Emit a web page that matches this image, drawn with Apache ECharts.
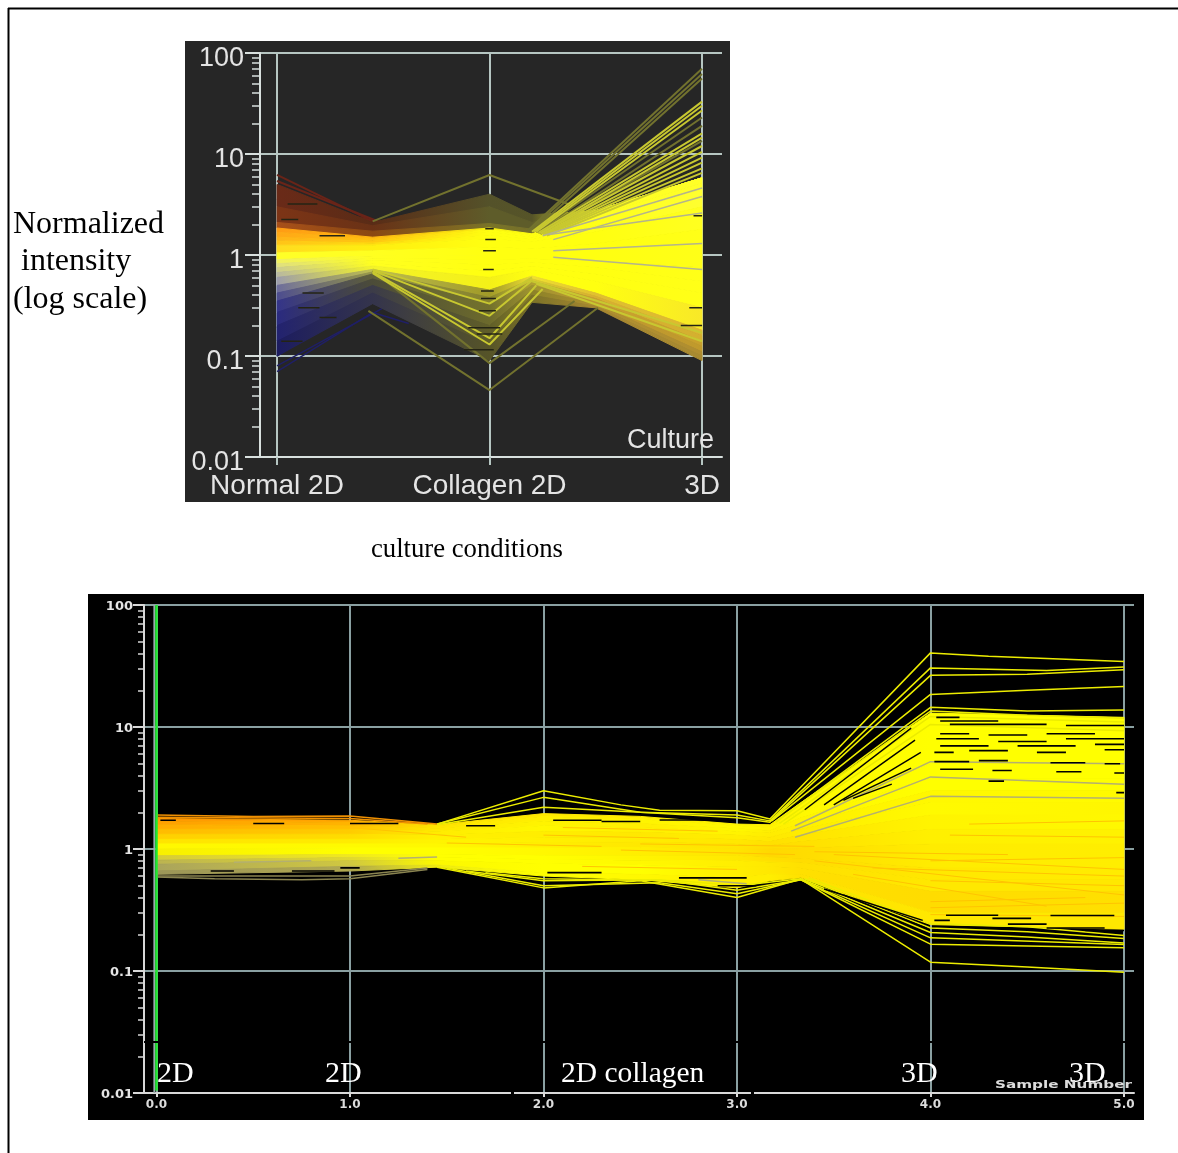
<!DOCTYPE html>
<html><head><meta charset="utf-8">
<style>html,body{margin:0;padding:0;background:#fff}#c{width:1178px;height:1153px}</style>
<script src="https://cdn.jsdelivr.net/npm/echarts@6/dist/echarts.min.js"></script>
</head><body><div id="c"></div>
<script>
// ---------- tick labels ----------
const topCategoryValues = [0, 1, 2];
const topCategories = ['Normal 2D', 'Collagen 2D', '3D'];
const bottomSampleValues = [0, 1, 2, 3, 4, 5];
const bottomSampleLabels = ['0.0', '1.0', '2.0', '3.0', '4.0', '5.0'];
const minorLogTicks = [0.02,0.03,0.04,0.05,0.06,0.07,0.08,0.09,0.2,0.3,0.4,0.5,0.6,0.7,0.8,0.9,2,3,4,5,6,7,8,9,20,30,40,50,60,70,80,90];

// ---------- upper panel: envelope layers (value at each culture stop) ----------
const topStops = [0, 0.45, 1, 1.2, 1.5, 2];
const topLayers = [
  [5.0, 2.1, 4.0, 2.5, 2.75, 5.8],
  [3.0, 1.95, 3.0, 2.1, 2.75, 5.8],
  [2.1, 1.72, 2.05, 1.8, 2.75, 5.8],
  [1.85, 1.5, 1.85, 1.62, 2.7, 5.8],
  [1.68, 1.44, 1.78, 1.56, 2.45, 5.2],
  [1.5, 1.38, 1.7, 1.5, 2.2, 4.5],
  [1.38, 1.31, 1.58, 1.42, 1.95, 3.7],
  [1.25, 1.25, 1.45, 1.35, 1.7, 3.0],
  [1.05, 1.1, 1.2, 1.15, 1.3, 1.8],
  [0.9, 0.98, 1.0, 1.0, 1.0, 1.0],
  [0.82, 0.93, 0.9, 0.92, 0.87, 0.75],
  [0.75, 0.88, 0.8, 0.85, 0.75, 0.55],
  [0.67, 0.83, 0.7, 0.78, 0.65, 0.42],
  [0.6, 0.78, 0.6, 0.72, 0.55, 0.3],
  [0.5, 0.72, 0.45, 0.62, 0.42, 0.18],
  [0.42, 0.68, 0.38, 0.58, 0.39, 0.16],
  [0.35, 0.65, 0.33, 0.55, 0.37, 0.14],
  [0.27, 0.58, 0.26, 0.5, 0.35, 0.125],
  [0.2, 0.5, 0.2, 0.45, 0.33, 0.11],
  [0.14, 0.42, 0.13, 0.4, 0.31, 0.1],
  [0.1, 0.33, 0.09, 0.34, 0.3, 0.09]
];
const topStripColors = [
  ['#6a2a18','#5a2c16','#54522a','#565428','#ffff20','#ffff20'],
  ['#7c3416','#6a3216','#5e5c2a','#5e5c2a','#ffff20','#ffff20'],
  ['#a8501a','#8a4812','#7a7428','#76702a','#ffff20','#ffff20'],
  ['#ff9c14','#ffb810','#f8f010','#ffff10','#ffff20','#ffff28'],
  ['#ffa816','#ffc010','#ffff10','#ffff10','#ffff20','#ffff28'],
  ['#ffb418','#ffc810','#ffff10','#ffff10','#ffff18','#ffff30'],
  ['#ffc418','#ffdc10','#ffff10','#ffff10','#ffff18','#ffff30'],
  ['#ffdc20','#ffee10','#ffff10','#ffff10','#ffff10','#ffff20'],
  ['#ffff28','#ffff20','#ffff10','#ffff10','#ffff10','#ffff18'],
  ['#f0f060','#ffff20','#ffff10','#ffff10','#ffff10','#ffff18'],
  ['#e0e080','#ffff20','#ffff10','#ffff10','#ffff10','#ffff18'],
  ['#cccc90','#ffff20','#ffff10','#ffff10','#ffff10','#ffff18'],
  ['#b8b8a0','#ffff20','#ffff10','#ffff10','#ffff10','#ffff18'],
  ['#9c9cac','#f4f428','#f4f018','#ffff10','#ffff10','#f8e828'],
  ['#6c6c9c','#c0c050','#a09a28','#f0e030','#e0c030','#dcb830'],
  ['#4c4c90','#9a9a48','#86822c','#d8cc30','#d8b030','#d4b030'],
  ['#34348a','#60603a','#72702c','#b0a030','#c8a030','#c8a02c'],
  ['#2a2a80','#4c4c38','#6c6a2c','#a09430','#c09830','#c09a2c'],
  ['#222270','#3c3c48','#605e28','#8c8228','#b09030','#b08e30'],
  ['#1c1c60','#34344c','#565428','#7c7228','#a88830','#a88a30']
];

// ---------- upper panel: individual profiles as [culture, intensity] ----------
const topLinesRed = [
  [[0,6.2],[0.45,2.15]], [[0,5.4],[0.5,2.05]], [[0,3.6],[0.55,1.95]]
];
const topLinesBlue = [
  [[0,0.07],[0.45,0.27],[0.62,0.21]], [[0,0.08],[0.5,0.3],[0.7,0.2]],
  [[0,0.1],[0.42,0.36],[0.62,0.28]], [[0,0.14],[0.42,0.42],[0.6,0.26]],
  [[0,0.19],[0.42,0.5],[0.6,0.33]]
];
const topLinesOlive = [
  [[0.45,2.15],[1,6.2],[1.37,3.2]],
  [[0.43,0.28],[1,0.046],[1.51,0.3]],
  [[0.45,0.7],[1,0.085],[1.4,0.35]],
  [[1.18,1.75],[2,70]], [[1.19,1.75],[2,62]], [[1.2,1.7],[2,56]],
  [[1.22,1.68],[2,23]], [[1.23,1.65],[2,19]], [[1.24,1.62],[2,13.5]]
];
const topLinesBright = [
  [[1.2,1.7],[2,33]], [[1.21,1.7],[2,30]], [[1.22,1.7],[2,27]],
  [[1.23,1.66],[2,16]], [[1.24,1.64],[2,14.5]], [[1.24,1.64],[2,12]],
  [[1.25,1.62],[2,10.5]], [[1.25,1.6],[2,9.2]], [[1.26,1.6],[2,8.2]],
  [[1.26,1.58],[2,7.2]], [[1.27,1.56],[2,6.5]],
  [[0.45,0.72],[1,0.33],[1.2,0.6]], [[0.45,0.7],[1,0.25],[1.2,0.56]],
  [[0.45,0.68],[1,0.15],[1.22,0.5]], [[0.45,0.66],[1,0.13],[1.25,0.46]],
  [[1.2,0.55],[2,0.17]], [[1.22,0.52],[2,0.14]]
];
const topLinesGrey = [
  [[1.28,1.6],[2,2.6]], [[1.3,1.1],[2,1.3]], [[1.3,1.42],[2,3.8]],
  [[1.3,0.95],[2,0.72]], [[1.25,1.55],[2,4.6]]
];
const topGaps = [
  [0.05,0.19,3.2],[0.02,0.1,2.25],[0.2,0.32,1.55],[0.02,0.12,0.14],[0.1,0.2,0.3],
  [0.2,0.28,0.24],[0.12,0.22,0.42],[0.98,1.02,1.82],[0.98,1.03,1.42],
  [0.97,1.03,1.1],[0.97,1.02,0.72],[0.96,1.02,0.44],[0.96,1.03,0.37],[0.95,1.03,0.28],
  [0.9,1.05,0.19],[0.94,1.06,0.165],[0.88,1.02,0.115],[1.96,2,2.45],[1.9,2,0.2],[1.94,2,0.3]
];

// ---------- lower panel: envelope layers (value at each sample stop) ----------
const bottomStops = [0, 1, 1.45, 2, 2.5, 3, 3.17, 3.33, 4, 5];
const bottomLayers = [
  [1.78, 1.72, 1.58, 1.95, 1.85, 1.6, 1.58, 2.4, 13, 12],
  [1.7, 1.65, 1.55, 1.85, 1.75, 1.55, 1.5, 2.0, 5, 5],
  [1.58, 1.55, 1.48, 1.7, 1.62, 1.47, 1.42, 1.8, 3.8, 3.8],
  [1.45, 1.45, 1.4, 1.55, 1.5, 1.4, 1.35, 1.6, 3, 3],
  [1.32, 1.32, 1.3, 1.4, 1.37, 1.3, 1.25, 1.45, 2.4, 2.4],
  [1.2, 1.2, 1.2, 1.25, 1.25, 1.2, 1.15, 1.3, 1.9, 1.9],
  [1.1, 1.1, 1.1, 1.13, 1.14, 1.1, 1.07, 1.15, 1.45, 1.45],
  [1.0, 1.02, 1.02, 1.02, 1.03, 1.0, 1.0, 1.02, 1.1, 1.1],
  [0.88, 0.9, 0.9, 0.88, 0.88, 0.88, 0.85, 0.84, 0.7, 0.7],
  [0.81, 0.85, 0.85, 0.82, 0.81, 0.8, 0.78, 0.77, 0.56, 0.56],
  [0.75, 0.8, 0.8, 0.76, 0.74, 0.72, 0.72, 0.7, 0.45, 0.45],
  [0.66, 0.72, 0.74, 0.64, 0.62, 0.58, 0.62, 0.62, 0.3, 0.3],
  [0.62, 0.66, 0.71, 0.6, 0.56, 0.48, 0.55, 0.58, 0.24, 0.22]
];
const bottomStripColors = [
  ['#ff9600','#ffa800','#ffe000','#ffe800','#ffee00','#fff400','#fff000','#fff800','#ffff00','#ffff00'],
  ['#ffa000','#ffb400','#ffe400','#fff000','#fff400','#fff800','#fff400','#fff800','#ffff00','#ffff00'],
  ['#ffac00','#ffc000','#ffe800','#fff400','#ffee00','#fff800','#ffee00','#fff400','#ffff00','#ffff00'],
  ['#ffbc00','#ffcc00','#ffec00','#fff800','#fff000','#fff400','#ffec00','#fff000','#fff800','#fffa00'],
  ['#ffd000','#ffdc00','#fff000','#ffee00','#ffe800','#ffee00','#ffe800','#ffec00','#fffa00','#fff600'],
  ['#ffe400','#ffec00','#fff400','#fff000','#ffec00','#ffe800','#ffe000','#ffe400','#fff400','#fff800'],
  ['#fff800','#fffa00','#fff800','#ffee00','#ffe800','#ffe400','#ffdc00','#ffe000','#fff000','#fff200'],
  ['#f8f000','#ffff00','#ffff00','#fff800','#ffee00','#ffe400','#ffd800','#ffdc00','#ffec00','#ffee00'],
  ['#d6cc38','#f0e820','#ffff00','#ffff00','#fff400','#ffe800','#ffe000','#ffdc00','#ffe800','#ffec00'],
  ['#bcb450','#e0d830','#ffff00','#ffff00','#fff800','#ffee00','#ffe800','#ffe000','#ffe800','#ffe800'],
  ['#aaa45c','#d0c840','#fcf800','#ffff00','#ffff00','#ffee00','#ffe800','#ffe000','#ffdc00','#ffe000'],
  ['#9c9658','#b0a850','#f0ec10','#ffff00','#fff800','#ffee00','#ffee00','#ffe000','#ffe800','#ffe800']
];

// ---------- lower panel: individual profiles as [sample, intensity] ----------
const bottomLinesOrange = [
  [[0,1.9],[0.5,1.85],[1,1.86],[1.45,1.6]], [[0,1.82],[0.4,1.8],[1,1.78],[1.4,1.6]]
];
const bottomLinesDrab = [
  [[0,0.59],[0.3,0.57],[0.75,0.56],[1,0.57],[1.4,0.68]], [[0,0.6],[0.5,0.6],[1,0.6],[1.4,0.7]]
];
const bottomLinesYellow = [
  [[1.45,1.6],[2,3.0],[2.4,2.3],[2.6,2.08],[3,2.06],[3.17,1.76],[4,40.5],[4.3,38],[5,34.5]],
  [[1.45,1.6],[2,2.65],[2.5,2.0],[3,1.9],[3.17,1.7],[4,30.5],[4.6,29],[5,31]],
  [[1.45,1.58],[2,2.2],[2.5,2.0],[3,1.8],[3.17,1.66],[4,26.5],[4.5,27],[5,29.5]],
  [[3.18,1.7],[4,18.5],[4.5,20],[5,21.5]],
  [[3.2,1.66],[4,14.5],[4.5,13.5],[5,13.8]],
  [[3.2,1.66],[4,13.5],[4.5,12.5],[5,11.8]],
  [[3.22,1.62],[4,12.2],[5,11]],
  [[3.24,1.6],[4,10.5],[5,9.3]],
  [[1.45,0.71],[2,0.48],[2.5,0.55],[3,0.4],[3.33,0.567],[4,0.118],[4.5,0.108],[5,0.0975]],
  [[1.5,0.7],[2,0.5],[2.6,0.53],[3,0.43],[3.33,0.56],[4,0.166],[5,0.155]],
  [[1.6,0.66],[2,0.55],[2.6,0.56],[3,0.46],[3.33,0.56],[4,0.187],[5,0.165]],
  [[1.7,0.64],[2,0.57],[2.7,0.55],[3,0.5],[3.33,0.57],[4,0.207],[4.5,0.19],[5,0.17]],
  [[3.35,0.57],[4,0.225],[4.5,0.21],[5,0.185]],
  [[3.37,0.58],[4,0.245],[4.5,0.23],[5,0.195]]
];
const bottomLinesGrey = [
  [[3.3,1.25],[4,2.7],[5,2.6]], [[3.28,1.4],[4,3.9],[5,3.4]], [[3.3,1.55],[4,5.2],[5,5.0]],
  [[0.4,0.78],[0.8,0.8]], [[1.25,0.84],[1.45,0.86]], [[2.8,0.56],[3.05,0.52]]
];
const bottomStreaks = [
  [[2,1.3],[2.7,1.22]], [[2.4,0.98],[3.3,0.9]], [[3.4,0.8],[5,0.42]],
  [[4,0.55],[5,0.5]], [[4,0.8],[5,0.85]], [[3.5,0.9],[5,0.68]], [[4,0.33],[5,0.36]],
  [[4.1,1.3],[5,1.25]], [[1,1.5],[1.6,1.25]], [[1.5,1.12],[2.3,1.05]], [[4,0.29],[5,0.28]],
  [[3.6,0.62],[4.6,0.34]], [[3.7,0.7],[5,0.6]], [[3.4,0.95],[4.4,0.9]], [[4.2,1.6],[5,1.7]],
  [[2.1,1.5],[2.9,1.4]], [[2.2,0.72],[3,0.68]], [[2.5,1.1],[3.4,1.05]], [[4,0.37],[4.8,0.4]]
];
const bottomGaps = [
  [0.02,0.1,1.72],[0.5,0.66,1.62],[1,1.25,1.62],[0.28,0.4,0.66],[0.7,0.92,0.66],[0.95,1.05,0.7],
  [1.6,1.75,1.55],[2.05,2.3,1.72],[2.3,2.5,1.68],[2.6,2.95,1.73],[2.02,2.3,0.64],[2.7,3.05,0.58],[2.9,3.1,0.5],
  [4.03,4.15,12],[4.05,4.35,11.2],[4.1,4.6,10.5],[4.7,5,10.3],[4.05,4.2,8.8],[4.3,4.5,8.6],[4.6,4.85,8.8],
  [4.03,4.25,8.0],[4.35,4.6,7.6],[4.7,5,8.0],[4.05,4.3,7.0],[4.45,4.75,7.0],[4.85,5,7.2],[4.02,4.12,6.2],
  [4.2,4.4,6.4],[4.55,4.7,6.2],[4.9,5,6.5],[4.02,4.2,5.2],[4.25,4.4,5.3],[4.62,4.8,5.1],[4.9,4.98,5.0],
  [4.05,4.22,4.5],[4.32,4.42,4.4],[4.65,4.78,4.3],[4.95,5,4.2],[4.3,4.38,3.6],[4.96,5,2.9],
  [4.08,4.35,0.286],[4.32,4.52,0.27],[4.62,4.95,0.285],[4.02,4.1,0.26],[4.4,4.6,0.242],[4.8,5,0.215],[4.6,4.9,0.225]
];
const bottomDiagonalGaps = [
  [[3.35,2.1],[3.9,9.8]], [[3.45,2.3],[3.92,7.8]], [[3.5,2.3],[3.95,6.2]], [[3.55,2.5],[3.9,4.6]],
  [[3.6,2.6],[3.8,3.4]], [[3.45,0.47],[3.96,0.26]], [[3.55,0.42],[3.98,0.225]]
];
const bottomMarkerLine = [[0, 0.0105], [0, 100]];
const bottomAxisEdge = [[-0.011, 0.01], [-0.011, 100]];

const chart = echarts.init(document.getElementById('c'));
const series = [];
const TOPG = {xAxisIndex: 0, yAxisIndex: 0};
const BOTG = {xAxisIndex: 1, yAxisIndex: 2};

function addStrips(layers, stops, colors, axes) {
  const span = stops[stops.length - 1] - stops[0];
  for (let i = 0; i < layers.length - 1; i++) {
    const up = layers[i], lo = layers[i + 1], col = colors[i];
    series.push(Object.assign({
      type: 'custom', silent: true, clip: true, z: 2,
      data: [[stops[0], up[0]]],
      renderItem: (p, api) => {
        const pts = [];
        stops.forEach((x, k) => pts.push(api.coord([x, up[k]])));
        for (let k = stops.length - 1; k >= 0; k--) pts.push(api.coord([stops[k], lo[k]]));
        const grad = new echarts.graphic.LinearGradient(0, 0, 1, 0,
          stops.map((x, k) => ({offset: (x - stops[0]) / span, color: col[k]})));
        return {type: 'polygon', shape: {points: pts}, style: {fill: grad, stroke: grad, lineWidth: 1}};
      }
    }, axes));
  }
}
function addLines(rows, color, width, axes, z) {
  rows.forEach(r => series.push(Object.assign({
    type: 'line', silent: true, symbol: 'none', animation: false, z: z || 3,
    data: r, lineStyle: {color: color, width: width}
  }, axes)));
}
function addGaps(rows, color, width, axes) {
  rows.forEach(g => series.push(Object.assign({
    type: 'line', silent: true, symbol: 'none', animation: false, z: 4,
    data: [[g[0], g[2]], [g[1], g[2]]], lineStyle: {color: color, width: width, cap: 'butt'}
  }, axes)));
}

// upper panel marks
addLines(topLinesBlue, '#1f1f66', 1.5, TOPG, 1);
addLines(topLinesRed, '#6a2418', 2, TOPG, 1);
addStrips(topLayers, topStops, topStripColors, TOPG);
addLines(topLinesOlive, '#72722e', 2, TOPG);
addLines(topLinesBright, '#c8c830', 2, TOPG);
addLines(topLinesGrey, '#b4b48c', 1.5, TOPG);
addGaps(topGaps, '#242414', 1.5, TOPG);

// lower panel marks
addStrips(bottomLayers, bottomStops, bottomStripColors, BOTG);
addLines(bottomLinesOrange, '#f09000', 1.5, BOTG);
addLines(bottomLinesDrab, '#8a8450', 1.5, BOTG);
addLines(bottomLinesYellow, '#ecec00', 1.5, BOTG);
addLines(bottomLinesGrey, '#b4b070', 1.5, BOTG);
addLines(bottomStreaks, '#ffc400', 1, BOTG);
addGaps(bottomGaps, '#000', 1.6, BOTG);
addLines(bottomDiagonalGaps, '#000', 1.4, BOTG, 4);
addLines([bottomAxisEdge], '#9aacac', 2, BOTG, 5);
addLines([bottomMarkerLine], '#20e830', 2.5, BOTG, 6);

const sans = 'Liberation Sans', pix = 'DejaVu Sans';
const topGrid = '#b6c6c2', botGrid = '#8aa0a2';

function logAxis(grid, color, lineColor, lineW, font, size, weight, maj, min, margin, lineH) {
  return [{
    type: 'log', logBase: 10, gridIndex: grid, min: 0.01, max: 100, position: 'left',
    axisLine: {show: true, onZero: false, lineStyle: {color: lineColor, width: lineW}},
    axisTick: {show: true, length: maj, lineStyle: {color: lineColor, width: lineW}},
    minorTick: {show: false},
    splitLine: {show: true, lineStyle: {color: color, width: 2}},
    axisLabel: {show: true, color: '#e4e4e4', fontFamily: font, fontSize: size, fontWeight: weight, margin: margin,
      verticalAlign: 'top', lineHeight: lineH,
      showMinLabel: true, showMaxLabel: true, formatter: v => String(v)}
  }, {
    type: 'log', logBase: 10, gridIndex: grid, min: 0.01, max: 100, position: 'left',
    axisLine: {show: false, onZero: false},
    axisTick: {show: true, length: min, customValues: minorLogTicks, lineStyle: {color: lineColor, width: 1.5}},
    axisLabel: {show: false, customValues: []}, splitLine: {show: false}
  }];
}

const option = {
  animation: false, backgroundColor: '#ffffff',
  grid: [
    {left: 260, top: 53, width: 462, height: 404, containLabel: false},
    {left: 144, top: 605, width: 990, height: 488, containLabel: false}
  ],
  xAxis: [{
    type: 'value', gridIndex: 0, min: -0.08, max: 2.094,
    axisLine: {show: true, onZero: false, lineStyle: {color: '#d8e0de', width: 2}},
    axisTick: {show: true, length: 8, customValues: topCategoryValues, lineStyle: {color: topGrid, width: 2}},
    splitLine: {show: true, lineStyle: {color: topGrid, width: 2}},
    axisLabel: {show: true, customValues: topCategoryValues, color: '#e4e4e4', fontFamily: sans, fontSize: 28, margin: 15,
      formatter: v => topCategories[topCategoryValues.indexOf(v)]}
  }, {
    type: 'value', gridIndex: 1, min: -0.0646, max: 5.0517,
    axisLine: {show: true, onZero: false, lineStyle: {color: '#d8d8d8', width: 2}},
    axisTick: {show: true, length: 4, customValues: bottomSampleValues, lineStyle: {color: '#d8d8d8', width: 2}},
    splitLine: {show: true, lineStyle: {color: botGrid, width: 2}},
    axisLabel: {show: true, customValues: bottomSampleValues, color: '#dcdcdc', fontFamily: pix, fontWeight: 'bold', fontSize: 12, margin: 6,
      formatter: v => bottomSampleLabels[bottomSampleValues.indexOf(v)]}
  }],
  yAxis: [].concat(
    logAxis(0, topGrid, '#d8e0de', 2, sans, 27, 'normal', 15, 8, 16, 12),
    logAxis(1, botGrid, '#d8d8d8', 2, pix, 13, 'bold', 11, 6, 11, 4)
  ),
  series: series,
  graphic: [
    {type: 'line', z: -5, shape: {x1: 8, y1: 8.5, x2: 1178, y2: 8.5}, style: {stroke: '#000', lineWidth: 2}},
    {type: 'line', z: -5, shape: {x1: 8.5, y1: 8, x2: 8.5, y2: 1153}, style: {stroke: '#000', lineWidth: 2}},
    {type: 'rect', z: -5, shape: {x: 185, y: 41, width: 545, height: 461}, style: {fill: '#262626'}},
    {type: 'rect', z: -5, shape: {x: 88, y: 594, width: 1056, height: 526}, style: {fill: '#000000'}},
    {type: 'rect', z: 50, shape: {x: 144, y: 1041, width: 990, height: 2}, style: {fill: '#000'}},
    {type: 'rect', z: 50, shape: {x: 511, y: 1091, width: 3, height: 4}, style: {fill: '#000'}},
    {type: 'rect', z: 50, shape: {x: 751, y: 1091, width: 3, height: 4}, style: {fill: '#000'}},
    {type: 'text', z: 60, x: 13, y: 225, style: {text: 'Normalized', fill: '#000', font: '32px "Liberation Serif"', textVerticalAlign: 'middle'}},
    {type: 'text', z: 60, x: 21, y: 262, style: {text: 'intensity', fill: '#000', font: '32px "Liberation Serif"', textVerticalAlign: 'middle'}},
    {type: 'text', z: 60, x: 13, y: 300, style: {text: '(log scale)', fill: '#000', font: '32px "Liberation Serif"', textVerticalAlign: 'middle'}},
    {type: 'text', z: 60, x: 371, y: 550, style: {text: 'culture conditions', fill: '#000', font: '26.7px "Liberation Serif"', textVerticalAlign: 'middle'}},
    {type: 'text', z: 60, x: 627, y: 441, style: {text: 'Culture', fill: '#e4e4e4', font: '27px "Liberation Sans"', textVerticalAlign: 'middle'}},
    {type: 'text', z: 60, x: 157, y: 1074, style: {text: '2D', fill: '#fff', font: '30px "Liberation Serif"', textVerticalAlign: 'middle'}},
    {type: 'text', z: 60, x: 325, y: 1074, style: {text: '2D', fill: '#fff', font: '30px "Liberation Serif"', textVerticalAlign: 'middle'}},
    {type: 'text', z: 60, x: 561, y: 1074, style: {text: '2D collagen', fill: '#fff', font: '29.5px "Liberation Serif"', textVerticalAlign: 'middle'}},
    {type: 'text', z: 60, x: 901, y: 1074, style: {text: '3D', fill: '#fff', font: '30px "Liberation Serif"', textVerticalAlign: 'middle'}},
    {type: 'text', z: 60, x: 1069, y: 1074, style: {text: '3D', fill: '#fff', font: '30px "Liberation Serif"', textVerticalAlign: 'middle'}},
    {type: 'text', z: 61, x: 995, y: 1085, scaleX: 1.45, style: {text: 'Sample Number', fill: '#dcdcdc', font: 'bold 10.5px "DejaVu Sans"', textVerticalAlign: 'middle'}}
  ]
};
chart.setOption(option);
</script></body></html>
